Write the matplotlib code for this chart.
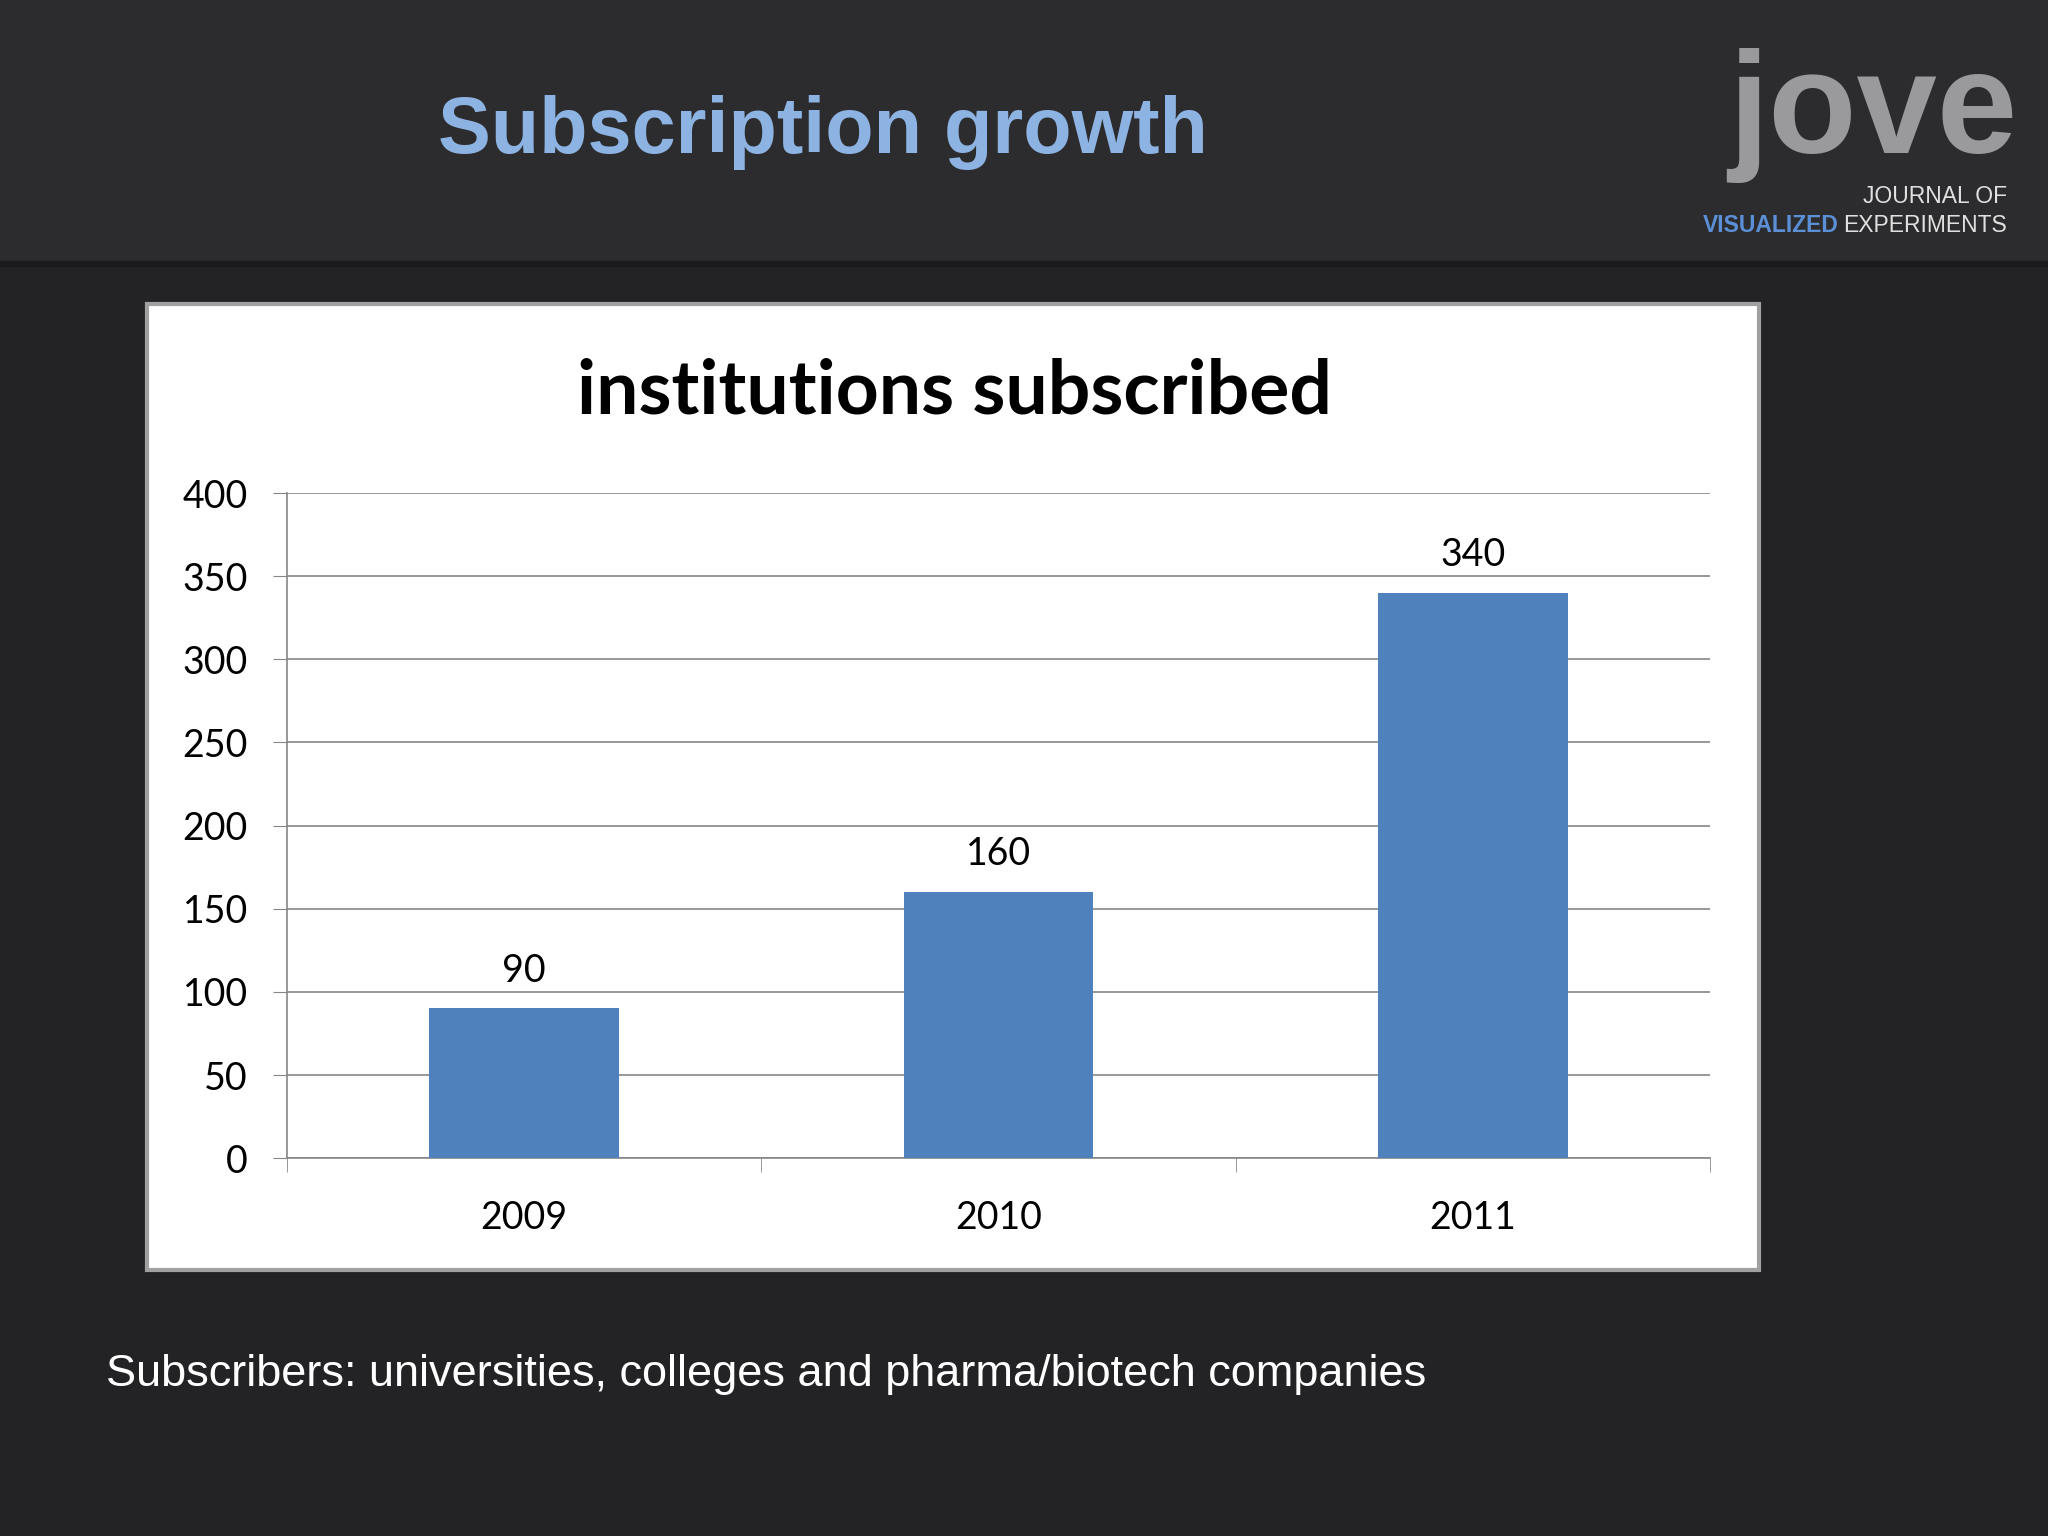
import matplotlib

matplotlib.use("Agg")
import matplotlib.pyplot as plt
from matplotlib.patches import Rectangle

YEARS = ["2009", "2010", "2011"]
SUBSCRIBED = [90, 160, 340]
Y_TICKS = [0, 50, 100, 150, 200, 250, 300, 350, 400]

BG = "#232325"
HEADER = "#2c2c2e"
BAR_BLUE = "#4f81bd"
TITLE_BLUE = "#8db3e2"

fig = plt.figure(figsize=(20.48, 15.36), dpi=100, facecolor=BG)

# header band
fig.patches.append(Rectangle((0, 0.83), 1, 0.17, transform=fig.transFigure, color=HEADER, zorder=0))
fig.patches.append(Rectangle((0, 0.827), 1, 0.003, transform=fig.transFigure, color="#1a1a1b", zorder=0))

fig.text(0.402, 0.914, "Subscription growth", color=TITLE_BLUE, fontsize=57,
         fontweight="bold", ha="center", va="center", family="Liberation Sans")

# logo
fig.text(0.985, 0.925, "jove", color="#9a9a9c", fontsize=104, fontweight="bold",
         ha="right", va="center", family="Liberation Sans")
fig.text(0.98, 0.872, "JOURNAL OF", color="#e0e0e0", fontsize=16.5,
         ha="right", va="center", family="Liberation Sans")
fig.text(0.98, 0.853, "EXPERIMENTS", color="#e0e0e0", fontsize=16.5,
         ha="right", va="center", family="Liberation Sans")
fig.text(0.898, 0.853, "VISUALIZED", color="#5b8fd6", fontsize=16.5, fontweight="bold",
         ha="right", va="center", family="Liberation Sans")

# white chart panel
fig.patches.append(Rectangle((0.072, 0.173), 0.787, 0.629, transform=fig.transFigure,
                             facecolor="white", edgecolor="#a0a0a0", linewidth=3, zorder=1))

fig.text(0.466, 0.745, "institutions subscribed", fontsize=54, fontweight="bold",
         ha="center", va="center", family="Lato", zorder=3)

ax = fig.add_axes([0.140, 0.246, 0.695, 0.433], zorder=2)
ax.set_facecolor("white")
x = range(len(YEARS))
ax.bar(x, SUBSCRIBED, width=0.4, color=BAR_BLUE, zorder=3)
for xi, v in zip(x, SUBSCRIBED):
    ax.text(xi, v + 12, str(v), ha="center", va="bottom", fontsize=27, family="Lato")

ax.set_xlim(-0.5, 2.5)
ax.set_ylim(0, 400)
ax.set_yticks(Y_TICKS)
ax.set_yticklabels([str(t) for t in Y_TICKS], fontsize=27, family="Lato")
ax.set_xticks(x)
ax.set_xticklabels(YEARS, fontsize=27, family="Lato")
ax.set_xticks([-0.5, 0.5, 1.5, 2.5], minor=True)
ax.tick_params(axis="x", which="major", length=0, pad=30)
ax.tick_params(axis="x", which="minor", length=10, color="#868686")
ax.tick_params(axis="y", length=10, color="#868686", pad=18)
ax.grid(axis="y", color="#868686", linewidth=1.2, zorder=0)
for side in ["top", "right"]:
    ax.spines[side].set_visible(False)
for side in ["left", "bottom"]:
    ax.spines[side].set_color("#868686")
    ax.spines[side].set_linewidth(1.2)

fig.text(0.052, 0.105, "Subscribers: universities, colleges and pharma/biotech companies",
         color="white", fontsize=32.5, ha="left", va="center", family="Liberation Sans")

fig.savefig("out.png", dpi=100, facecolor=BG)
